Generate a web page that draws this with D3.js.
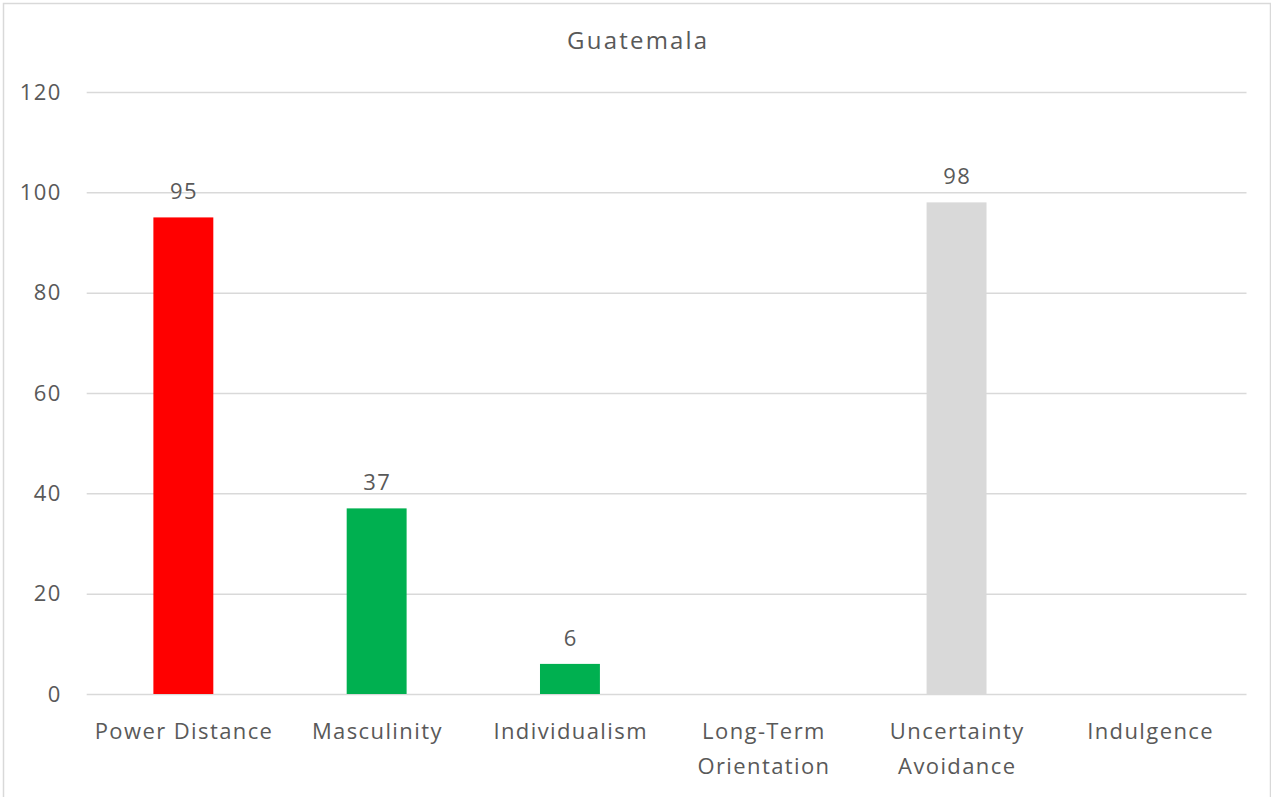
<!DOCTYPE html>
<html>
<head>
<meta charset="utf-8">
<script src="https://cdn.jsdelivr.net/npm/d3@7"></script>
<style>
  html, body { margin: 0; padding: 0; background: #fff; }
  svg { display: block; }
  text { font-family: "Open Sans", "DejaVu Sans", sans-serif; fill: #595959; }
</style>
</head>
<body>
<svg id="chart" width="1271" height="797"></svg>
<script>
// Hofstede cultural dimensions for Guatemala
const chartTitle = "Guatemala";
const categories = ["Power Distance", "Masculinity", "Individualism", "Long-Term Orientation", "Uncertainty Avoidance", "Indulgence"];
const scores = [95, 37, 6, null, 98, null];
const barColors = ["#FF0000", "#00B050", "#00B050", "#00B050", "#D9D9D9", "#D9D9D9"];
const yTicks = [0, 20, 40, 60, 80, 100, 120];

const W = 1271, H = 797;
const margin = { left: 86.7, right: 24.5, top: 92, bottom: 103 };
const labelSize = 22, labelSpacing = 1.4;

const svg = d3.select("#chart");

// chart frame
svg.append("rect")
  .attr("x", 3.5).attr("y", 3.5)
  .attr("width", W - 4).attr("height", H + 10)
  .attr("fill", "#fff").attr("stroke", "#d9d9d9").attr("stroke-width", 1.5);

const x = d3.scaleBand()
  .domain(categories)
  .range([margin.left, W - margin.right])
  .paddingInner(0.69)
  .paddingOuter(0.345);

const y = d3.scaleLinear()
  .domain([0, 120])
  .range([H - margin.bottom, margin.top]);

// title, centred on the frame
svg.append("text")
  .attr("x", (3.5 + W) / 2 + 1)
  .attr("y", 49)
  .attr("text-anchor", "middle")
  .style("font-size", "24px")
  .style("letter-spacing", "2.2px")
  .text(chartTitle);

// horizontal gridlines
const grid = d3.axisLeft(y)
  .tickValues(yTicks)
  .tickSize(-(W - margin.right - margin.left))
  .tickFormat("");
svg.append("g")
  .attr("transform", `translate(${margin.left},0)`)
  .call(grid)
  .call(g => g.select(".domain").remove())
  .call(g => g.selectAll("line").attr("stroke", "#d9d9d9").attr("stroke-width", 1.5));

// y axis labels
const yAxis = d3.axisLeft(y)
  .tickValues(yTicks)
  .tickSize(0)
  .tickPadding(25)
  .tickFormat(d3.format("d"));
svg.append("g")
  .attr("transform", `translate(${margin.left},0)`)
  .call(yAxis)
  .call(g => g.select(".domain").remove())
  .call(g => g.selectAll("text")
    .style("font-size", labelSize + "px")
    .style("letter-spacing", labelSpacing + "px")
    .attr("fill", "#595959")
    .attr("font-family", null));

// bars
const data = categories.map((c, i) => ({ cat: c, v: scores[i], color: barColors[i] }))
  .filter(d => d.v !== null);

svg.append("g")
  .selectAll("rect")
  .data(data)
  .join("rect")
  .attr("x", d => x(d.cat))
  .attr("width", x.bandwidth())
  .attr("y", d => y(d.v))
  .attr("height", d => y(0) - y(d.v))
  .attr("fill", d => d.color);

// value labels
svg.append("g")
  .selectAll("text")
  .data(data)
  .join("text")
  .attr("x", d => x(d.cat) + x.bandwidth() / 2 + labelSpacing / 2)
  .attr("y", d => y(d.v) - 18)
  .attr("text-anchor", "middle")
  .style("font-size", labelSize + "px")
  .style("letter-spacing", labelSpacing + "px")
  .text(d => d.v);

// x axis category labels, wrapped to the band width
const xAxis = d3.axisBottom(x).tickSize(0).tickPadding(29);
svg.append("g")
  .attr("transform", `translate(${labelSpacing / 2},${y(0)})`)
  .call(xAxis)
  .call(g => g.select(".domain").remove())
  .call(g => g.selectAll("text")
    .style("font-size", labelSize + "px")
    .style("letter-spacing", labelSpacing + "px")
    .attr("fill", "#595959")
    .attr("font-family", null)
    .call(wrap, x.step() - 2));

function wrap(texts, width) {
  texts.each(function() {
    const t = d3.select(this);
    const words = t.text().split(/\s+/);
    const yAttr = t.attr("y");
    const dy = parseFloat(t.attr("dy")) || 0;
    t.text(null);
    let line = [];
    let lineNo = 0;
    let tspan = t.append("tspan").attr("x", 0).attr("y", yAttr).attr("dy", dy + "em");
    for (const w of words) {
      line.push(w);
      tspan.text(line.join(" "));
      if (tspan.node().getComputedTextLength() > width && line.length > 1) {
        line.pop();
        tspan.text(line.join(" "));
        line = [w];
        lineNo++;
        tspan = t.append("tspan").attr("x", 0).attr("y", yAttr)
          .attr("dy", (dy + lineNo * 1.59) + "em").text(w);
      }
    }
  });
}
</script>
</body>
</html>
